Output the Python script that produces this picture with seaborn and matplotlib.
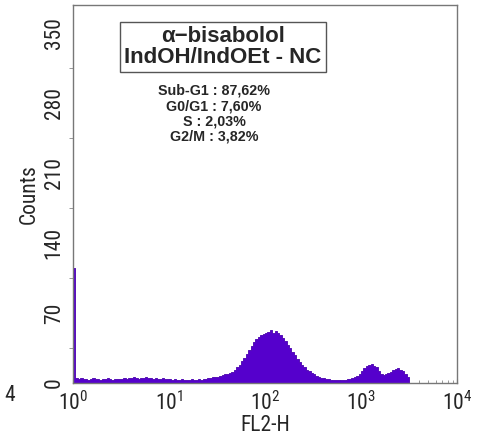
import numpy as np
import pandas as pd
import matplotlib
matplotlib.use("Agg")
import matplotlib.pyplot as plt
import seaborn as sns

# FL2-H histogram, log channels from 10^0 in steps of 0.025 decade
log_start = 0.0
log_step = 0.025
counts = [
    115, 5, 4, 5, 4, 4, 3, 4, 5, 4, 4, 3, 4, 4, 5, 4, 3, 4, 4, 4,
    4, 5, 4, 5, 5, 6, 5, 4, 5, 5, 6, 5, 5, 4, 5, 4, 4, 5, 4, 4,
    4, 3, 4, 3, 3, 4, 3, 3, 3, 4, 3, 3, 4, 3, 4, 4, 5, 5, 6, 6,
    6, 7, 8, 9, 9, 10, 11, 13, 16, 18, 22, 25, 29, 33, 37, 41, 44, 46, 48, 49,
    50, 51, 53, 50, 52, 50, 48, 45, 42, 38, 35, 31, 28, 24, 21, 18, 16, 13, 12, 10,
    9, 7, 6, 5, 5, 4, 4, 3, 3, 3, 3, 3, 3, 3, 4, 4, 5, 6, 7, 9,
    12, 15, 17, 18, 19, 17, 16, 12, 9, 8, 9, 10, 11, 13, 14, 15, 13, 12, 9, 6,
]
title_lines = ["\u03b1\u2212bisabolol", "IndOH/IndOEt - NC"]
stats_lines = ["Sub-G1 : 87,62%", "G0/G1 : 7,60%", "S : 2,03%", "G2/M : 3,82%"]
yticks = [0, 70, 140, 210, 280, 350]
xticks = [1, 10, 100, 1000, 10000]

sns.set_style("white")
plt.rcParams['font.family'] = ['Roboto Condensed', 'DejaVu Sans']
plt.rcParams['mathtext.fontset'] = 'custom'
plt.rcParams['mathtext.rm'] = 'Roboto Condensed'
plt.rcParams['mathtext.it'] = 'Roboto Condensed'

df = pd.DataFrame({
    "fl2": 10 ** (log_start + log_step * (np.arange(len(counts)) + 0.5)),
    "n": counts,
})
nbins = len(counts)

fig = plt.figure(figsize=(4.97, 4.43), dpi=100)
ax = fig.add_axes([0.1469, 0.1354, 0.7726, 0.8533])
sns.histplot(data=df, x="fl2", weights="n", bins=nbins,
             binrange=(log_start, log_start + log_step * nbins), log_scale=True,
             element="step", fill=True, color="#5500cc", alpha=1,
             linewidth=0.6, edgecolor="#4a00b0", ax=ax)

ax.set_xlim(1, 10000)
ax.set_ylim(0, 378)
ax.set_xticks(xticks)
ax.set_xticklabels([r"$10^{%d}$" % i for i in range(5)], fontsize=15.5)
ax.set_yticks(yticks)
ax.set_yticklabels([str(v) for v in yticks], fontsize=15.5, rotation=90, va="center")
ax.set_yticks(np.arange(35, 378, 70), minor=True)
ax.tick_params(axis="y", which="both", direction="out", length=3, color="#888888", pad=3)
ax.tick_params(axis="y", which="minor", left=True, length=3)
ax.tick_params(axis="x", which="both", direction="in", length=3, color="#888888", pad=6, bottom=True)
ax.tick_params(axis="x", which="minor", length=2)
for s in ax.spines.values():
    s.set_color("#777777")
    s.set_linewidth(1.0)

ax.set_xlabel("FL2-H", fontsize=15.5, labelpad=0)
ax.set_ylabel("Counts", fontsize=15.5, labelpad=3)

fig.text(0.4487, 0.894, "\n".join(title_lines), ha="center", va="center",
         fontsize=16, fontweight="bold", family=["Liberation Sans", "DejaVu Sans"],
         linespacing=1.0,
         bbox=dict(boxstyle="square,pad=0.2", fc="white", ec="#555555", lw=1.0))
fig.text(0.4306, 0.743, "\n".join(stats_lines), ha="center", va="center",
         fontsize=10.3, fontweight="bold", family=["Liberation Sans", "DejaVu Sans"],
         linespacing=1.12)
fig.text(0.008, 0.107, "4", fontsize=15.5, ha="left", va="center")

fig.savefig("out.png", dpi=100)
